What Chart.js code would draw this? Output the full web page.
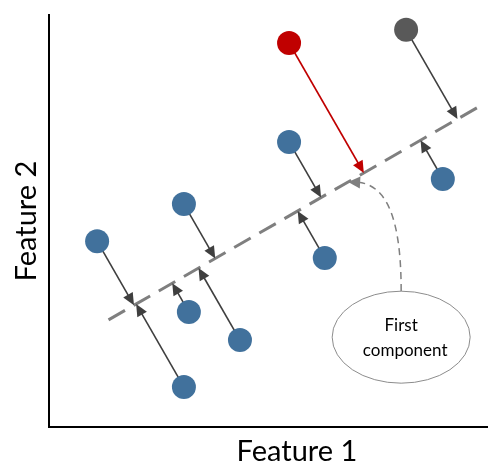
<!DOCTYPE html>
<html>
<head>
<meta charset="utf-8">
<script src="https://cdn.jsdelivr.net/npm/chart.js@4.4.1/dist/chart.umd.min.js"></script>
<style>
  html, body { margin: 0; padding: 0; overflow: hidden; background: #fff; }
  /* el eje x sigue mas alla del borde derecho, como en la figura original */
  #wrap { width: 546px; height: 461px; }
</style>
</head>
<body>
<div id="wrap"><canvas id="pcaChart"></canvas></div>
<script>
// datos de la figura (unidades arbitrarias 0..10)
const blueX = [0.97, 2.72, 4.84, 7.94, 5.56, 2.82, 3.85, 2.72]
const blueY = [4.51, 5.41, 6.92, 6.02, 4.10, 2.79, 2.11, 0.97]
const redX = [4.84]
const redY = [9.32]
const grayX = [7.20]
const grayY = [9.64]
// primera componente (recta discontinua)
const compX = [1.20, 8.66]
const compY = [2.60, 7.77]
// etiqueta "First component": centro de la elipse y punto al que apunta
const labelAt = [7.10, 2.18]
const labelTarget = [6.03, 5.95]
const labelLines = ['First', 'component']
const axisTitles = ['Feature 1', 'Feature 2']

const toPts = (xs, ys) => xs.map((x, i) => ({ x, y: ys[i] }))

// proyeccion ortogonal (en pixeles) de p sobre la recta a-b
const project = (p, a, b) => {
    const dx = b.x - a.x, dy = b.y - a.y
    const t = ((p.x - a.x) * dx + (p.y - a.y) * dy) / (dx * dx + dy * dy)
    return { x: a.x + t * dx, y: a.y + t * dy }
}

const arrowHead = (ctx, from, tip, len, half, color) => {
    const ang = Math.atan2(tip.y - from.y, tip.x - from.x)
    ctx.save()
    ctx.fillStyle = color
    ctx.translate(tip.x, tip.y)
    ctx.rotate(ang)
    ctx.beginPath()
    ctx.moveTo(0, 0)
    ctx.lineTo(-len, -half)
    ctx.lineTo(-len, half)
    ctx.closePath()
    ctx.fill()
    ctx.restore()
}

const drawArrow = (ctx, from, tip, color) => {
    const len = 12, half = 5.5
    const d = Math.hypot(tip.x - from.x, tip.y - from.y)
    const ux = (tip.x - from.x) / d, uy = (tip.y - from.y) / d
    ctx.save()
    ctx.strokeStyle = color
    ctx.lineWidth = 1.6
    ctx.beginPath()
    ctx.moveTo(from.x, from.y)
    ctx.lineTo(tip.x - ux * (len - 2), tip.y - uy * (len - 2))
    ctx.stroke()
    ctx.restore()
    arrowHead(ctx, from, tip, len, half, color)
}

// flechas de proyeccion: se pintan justo despues de la recta y antes de los puntos
const projectionArrows = {
    id: 'projectionArrows',
    afterDatasetDraw(chart, args) {
        if (args.index !== 3) return
        const line = chart.getDatasetMeta(3).data
        const a = { x: line[0].x, y: line[0].y }, b = { x: line[1].x, y: line[1].y }
        const ctx = chart.ctx
        const colors = ['#3f3f3f', '#c00000', '#3f3f3f']
        for (let i = 0; i < 3; i++) {
            chart.getDatasetMeta(i).data.forEach(pt => {
                const p = { x: pt.x, y: pt.y }
                drawArrow(ctx, p, project(p, a, b), colors[i])
            })
        }
    }
}

// elipse con el texto y la flecha curva discontinua
const componentLabel = {
    id: 'componentLabel',
    afterDatasetsDraw(chart) {
        const { ctx, scales: { x, y } } = chart
        const line = chart.getDatasetMeta(3).data
        const a = { x: line[0].x, y: line[0].y }, b = { x: line[1].x, y: line[1].y }
        const cx = x.getPixelForValue(labelAt[0]), cy = y.getPixelForValue(labelAt[1])
        const rx = 69, ry = 46
        const s = { x: cx, y: cy - ry }
        const e = project({ x: x.getPixelForValue(labelTarget[0]), y: y.getPixelForValue(labelTarget[1]) }, a, b)
        const c1 = { x: s.x, y: s.y - 0.7 * (s.y - e.y) }
        const c2 = { x: s.x - 0.3 * (s.x - e.x), y: e.y + 2 }

        ctx.save()
        ctx.strokeStyle = '#7f7f7f'
        ctx.lineWidth = 1.5
        ctx.setLineDash([7, 5])
        ctx.beginPath()
        ctx.moveTo(s.x, s.y)
        ctx.bezierCurveTo(c1.x, c1.y, c2.x, c2.y, e.x + 8, e.y)
        ctx.stroke()
        ctx.setLineDash([])
        arrowHead(ctx, c2, e, 12, 6, '#7f7f7f')

        ctx.beginPath()
        ctx.ellipse(cx, cy, rx, ry, 0, 0, Math.PI * 2)
        ctx.fillStyle = '#fff'
        ctx.fill()
        ctx.lineWidth = 1
        ctx.strokeStyle = '#8c8c8c'
        ctx.stroke()

        ctx.fillStyle = '#000'
        ctx.font = '17px Lato'
        ctx.textAlign = 'center'
        ctx.textBaseline = 'middle'
        ctx.fillText(labelLines[0], cx, cy - 12)
        ctx.fillText(labelLines[1], cx + 4, cy + 13)
        ctx.restore()
    }
}

const renderPcaChart = () => {
    const data = {
        datasets: [
            { data: toPts(blueX, blueY), backgroundColor: '#41719c', pointRadius: 12, pointBorderWidth: 0, showLine: false },
            { data: toPts(redX, redY), backgroundColor: '#c00000', pointRadius: 12, pointBorderWidth: 0, showLine: false },
            { data: toPts(grayX, grayY), backgroundColor: '#595959', pointRadius: 12, pointBorderWidth: 0, showLine: false },
            {
                data: toPts(compX, compY), showLine: true, pointRadius: 0,
                borderColor: '#7f7f7f', borderWidth: 3, borderDash: [19, 10], fill: false
            }
        ]
    }
    const axis = (title, lh, pad) => ({
        type: 'linear', min: 0, max: 10,
        grid: { display: false, drawTicks: false },
        ticks: { display: false },
        border: { color: '#000', width: 2 },
        title: {
            display: true, text: title, color: '#000',
            font: { family: 'Lato', size: 29, lineHeight: lh },
            padding: pad
        }
    })
    const options = {
        responsive: true,
        maintainAspectRatio: false,
        animation: false,
        events: [],
        layout: { autoPadding: false, padding: { top: 15, right: 1, left: 0, bottom: 0 } },
        plugins: { legend: { display: false }, tooltip: { enabled: false } },
        scales: {
            x: axis(axisTitles[0], 0.6, { top: 16.3, bottom: 0.3 }),
            y: axis(axisTitles[1], 0.8, { top: 15.4, bottom: 10.4 })
        }
    }
    new Chart('pcaChart', { type: 'scatter', data, options, plugins: [projectionArrows, componentLabel] })
}

renderPcaChart()
</script>
</body>
</html>
